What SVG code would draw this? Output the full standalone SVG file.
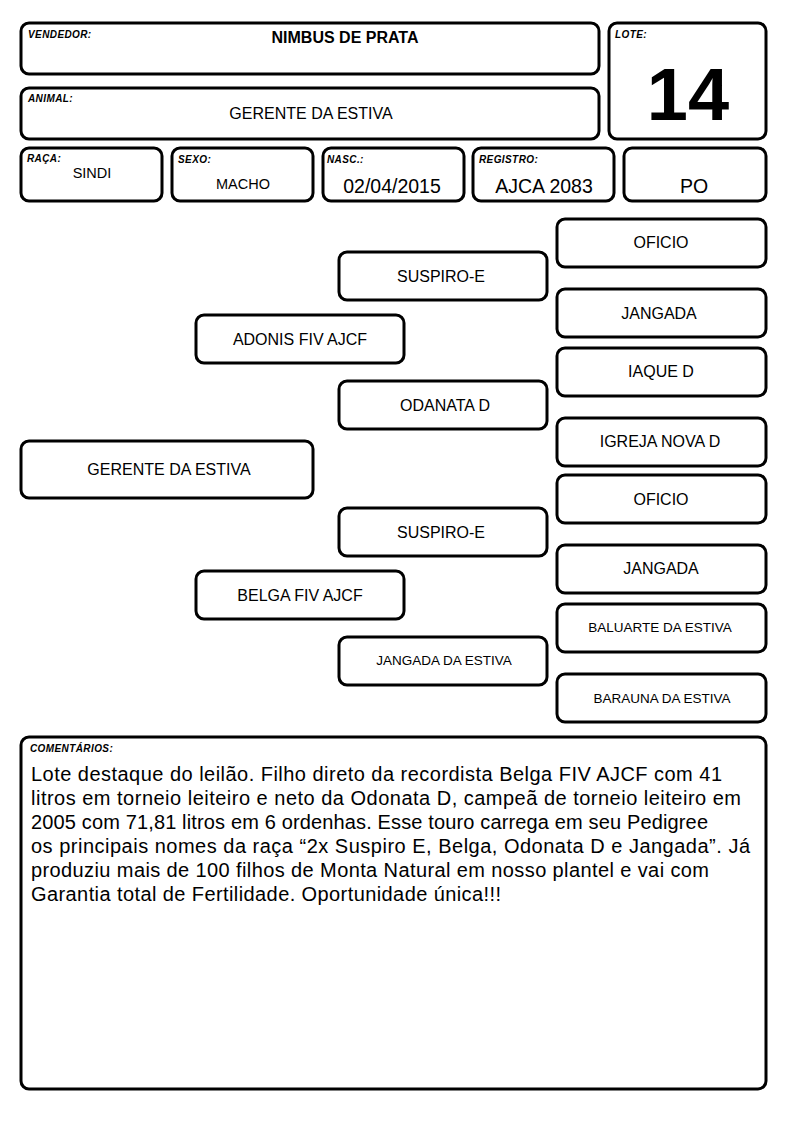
<svg xmlns="http://www.w3.org/2000/svg" width="794" height="1123" viewBox="0 0 794 1123">
<style>
.b{fill:#fff;stroke:#000;stroke-width:3}
.t{font-family:"Liberation Sans",Arial,sans-serif;fill:#000;text-anchor:middle}
.l{font-family:"Liberation Sans",Arial,sans-serif;font-size:10px;font-weight:bold;font-style:italic;fill:#000;letter-spacing:0.4px}
.p{font-size:16px}
.s{font-size:13.5px}
.c{font-family:"Liberation Sans",Arial,sans-serif;font-size:20px;fill:#000}
</style>
<rect width="794" height="1123" fill="#fff"/>
<g id="vendedor"><rect class="b" x="21" y="23" width="578" height="51" rx="8"/><text class="l" x="28" y="38">VENDEDOR:</text><text class="t" x="345" y="43" font-size="16" font-weight="bold">NIMBUS DE PRATA</text></g>
<g id="animal"><rect class="b" x="21" y="88" width="578" height="51" rx="8"/><text class="l" x="28" y="102">ANIMAL:</text><text class="t p" x="311" y="119">GERENTE DA ESTIVA</text></g>
<g id="lote"><rect class="b" x="609" y="23" width="157" height="116" rx="8"/><text class="l" x="615" y="38">LOTE:</text><text class="t" x="688" y="120" font-size="74" font-weight="bold">14</text></g>
<g id="raca"><rect class="b" x="21" y="148" width="141" height="53" rx="8"/><text class="l" x="27" y="162">RAÇA:</text><text class="t" x="92" y="178" font-size="14.5">SINDI</text></g>
<g id="sexo"><rect class="b" x="172" y="148" width="141" height="53" rx="8"/><text class="l" x="178" y="163">SEXO:</text><text class="t" x="243" y="189" font-size="14.5">MACHO</text></g>
<g id="nasc"><rect class="b" x="323" y="148" width="141" height="53" rx="8"/><text class="l" x="327" y="163">NASC.:</text><text class="t" x="392" y="193" font-size="19.5">02/04/2015</text></g>
<g id="registro"><rect class="b" x="473" y="148" width="141" height="53" rx="8"/><text class="l" x="479" y="163">REGISTRO:</text><text class="t" x="544" y="193" font-size="19.5">AJCA 2083</text></g>
<g id="po"><rect class="b" x="624" y="148" width="142" height="53" rx="8"/><text class="t" x="694" y="193" font-size="19.5">PO</text></g>

<g id="connectors"></g>

<g id="n-oficio1"><rect class="b" x="557" y="219" width="209" height="48" rx="8"/><text class="t p" x="661" y="248">OFICIO</text></g>
<g id="n-suspiro1"><rect class="b" x="339" y="252" width="208" height="48" rx="8"/><text class="t p" x="441" y="282">SUSPIRO-E</text></g>
<g id="n-jangada1"><rect class="b" x="557" y="289" width="209" height="48" rx="8"/><text class="t p" x="659" y="319">JANGADA</text></g>
<g id="n-adonis"><rect class="b" x="196" y="315" width="208" height="48" rx="8"/><text class="t p" x="300" y="345">ADONIS FIV AJCF</text></g>
<g id="n-iaque"><rect class="b" x="557" y="348" width="209" height="48" rx="8"/><text class="t p" x="661" y="377">IAQUE D</text></g>
<g id="n-odanata"><rect class="b" x="339" y="381" width="208" height="48" rx="8"/><text class="t p" x="445" y="411">ODANATA D</text></g>
<g id="n-igreja"><rect class="b" x="557" y="418" width="209" height="48" rx="8"/><text class="t p" x="660" y="447">IGREJA NOVA D</text></g>
<g id="n-gerente"><rect class="b" x="21" y="441" width="292" height="57" rx="8"/><text class="t p" x="169" y="475">GERENTE DA ESTIVA</text></g>
<g id="n-oficio2"><rect class="b" x="557" y="475" width="209" height="48" rx="8"/><text class="t p" x="661" y="505">OFICIO</text></g>
<g id="n-suspiro2"><rect class="b" x="339" y="508" width="208" height="48" rx="8"/><text class="t p" x="441" y="538">SUSPIRO-E</text></g>
<g id="n-jangada2"><rect class="b" x="557" y="545" width="209" height="48" rx="8"/><text class="t p" x="661" y="574">JANGADA</text></g>
<g id="n-belga"><rect class="b" x="196" y="571" width="208" height="48" rx="8"/><text class="t p" x="300" y="601">BELGA FIV AJCF</text></g>
<g id="n-baluarte"><rect class="b" x="557" y="604" width="209" height="48" rx="8"/><text class="t s" x="660" y="632">BALUARTE DA ESTIVA</text></g>
<g id="n-jangadaestiva"><rect class="b" x="339" y="637" width="208" height="48" rx="8"/><text class="t s" x="444" y="665">JANGADA DA ESTIVA</text></g>
<g id="n-barauna"><rect class="b" x="557" y="674" width="209" height="48" rx="8"/><text class="t s" x="662" y="703">BARAUNA DA ESTIVA</text></g>

<g id="comentarios"><rect class="b" x="21" y="737" width="745" height="352" rx="8"/><text class="l" x="30" y="752">COMENTÁRIOS:</text>
<text class="c" x="31" y="781" textLength="691" lengthAdjust="spacing">Lote destaque do leilão. Filho direto da recordista Belga FIV AJCF com 41</text>
<text class="c" x="31" y="805" textLength="710" lengthAdjust="spacing">litros em torneio leiteiro e neto da Odonata D, campeã de torneio leiteiro em</text>
<text class="c" x="31" y="829" textLength="677" lengthAdjust="spacing">2005 com 71,81 litros em 6 ordenhas. Esse touro carrega em seu Pedigree</text>
<text class="c" x="31" y="853" textLength="719" lengthAdjust="spacing">os principais nomes da raça “2x Suspiro E, Belga, Odonata D e Jangada”. Já</text>
<text class="c" x="31" y="877" textLength="678" lengthAdjust="spacing">produziu mais de 100 filhos de Monta Natural em nosso plantel e vai com</text>
<text class="c" x="31" y="901" textLength="470" lengthAdjust="spacing">Garantia total de Fertilidade. Oportunidade única!!!</text>
</g>
</svg>
